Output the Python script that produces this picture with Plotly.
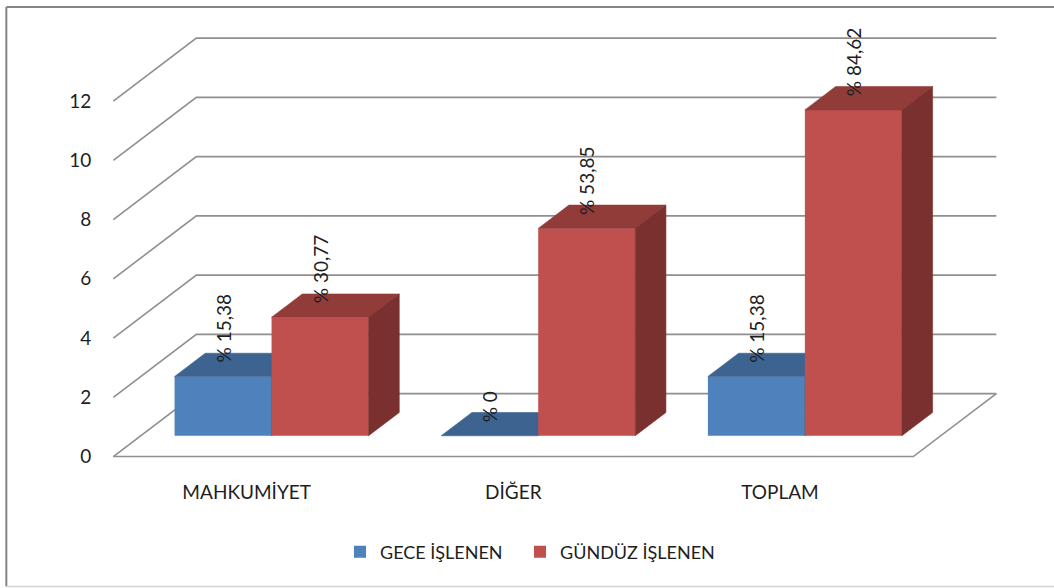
import plotly.graph_objects as go

# ---- data -------------------------------------------------------------
categories = ["MAHKUMİYET", "DİĞER", "TOPLAM"]
gece = [2, 0, 2]          # GECE İŞLENEN
gunduz = [4, 7, 11]       # GÜNDÜZ İŞLENEN
y_ticks = [0, 2, 4, 6, 8, 10, 12]
series_names = ["GECE İŞLENEN", "GÜNDÜZ İŞLENEN"]

# percentages are shares of the grand total (TOPLAM row)
grand_total = gece[-1] + gunduz[-1]


def pct_label(v):
    p = v / grand_total * 100
    if p == 0:
        return "% 0"
    return "% " + f"{p:.2f}".replace(".", ",")


# ---- pseudo-3D geometry (in axis units) -------------------------------
W_PX, H_PX = 1054, 588
PX_X = 266.67            # pixels per category step
PX_Y = 29.65             # pixels per value unit
FLOOR_DX = 83 / PX_X     # depth of the floor, x component
FLOOR_DY = 63 / PX_Y     # depth of the floor, y component
BAR_W = 97 / PX_X        # width of one bar
F0 = 0.33                # depth where the bar fronts stand
FD = 0.37                # bar depth as a fraction of the floor depth
X_NUDGE = -2.5 / PX_X    # small horizontal correction of the bar pair

X_MIN, X_MAX = -0.52, 2.9
Y_MIN, Y_MAX = -0.15, 14.6
FRONT_LEFT_PX, FRONT_ZERO_PX = 113, 457

ml = FRONT_LEFT_PX - (-0.5 - X_MIN) * PX_X
mb = H_PX - FRONT_ZERO_PX - (0 - Y_MIN) * PX_Y
plot_w = (X_MAX - X_MIN) * PX_X
plot_h = (Y_MAX - Y_MIN) * PX_Y
mr = W_PX - ml - plot_w
mt = H_PX - mb - plot_h

GRID = "#8f8f8f"
TEXT = "#1e1e1e"
FONT = "Lato"

front_colors = ["#4F81BD", "#C0504D"]
top_colors = ["#3D6391", "#923C3A"]
side_colors = ["#34557C", "#7A302E"]
legend_ids = ["legend", "legend2"]
legend_left_px = [340, 520]

fig = go.Figure()

# ---- walls and gridlines ----------------------------------------------
x0, x1 = -0.5, 2.5
shapes = []
for t in y_ticks:
    shapes.append(dict(
        type="path", xref="x", yref="y", layer="below",
        path=f"M{x0},{t} L{x0 + FLOOR_DX},{t + FLOOR_DY} L{x1 + FLOOR_DX},{t + FLOOR_DY}",
        line=dict(color=GRID, width=1.6)))
# floor front and right edges
shapes.append(dict(
    type="path", xref="x", yref="y", layer="below",
    path=f"M{x0},0 L{x1},0 L{x1 + FLOOR_DX},{FLOOR_DY}",
    line=dict(color=GRID, width=1.6)))


# ---- bars ------------------------------------------------------------
def px_to_paper_x(px):
    return (px - ml) / plot_w


def px_to_paper_y(py):
    return (H_PX - mb - py) / plot_h


base = F0 * FLOOR_DY
shift = F0 * FLOOR_DX + X_NUDGE
ddx = FD * FLOOR_DX
ddy = FD * FLOOR_DY
xs = list(range(len(categories)))

annotations = []
for s, (vals, name) in enumerate(zip([gece, gunduz], series_names)):
    offset = shift - BAR_W + s * BAR_W
    z = 1 + 2 * s
    fig.add_trace(go.Bar(
        x=xs, y=vals, base=base, width=BAR_W, offset=offset, name=name,
        marker=dict(color=front_colors[s], line=dict(width=0)),
        zorder=z, hoverinfo="skip", legend=legend_ids[s]))
    for i, v in zip(xs, vals):
        xl = i + offset
        xr = xl + BAR_W
        top = base + v
        # top face
        fig.add_trace(go.Scatter(
            x=[xl, xr, xr + ddx, xl + ddx, xl],
            y=[top, top, top + ddy, top + ddy, top],
            mode="lines", fill="toself", fillcolor=top_colors[s],
            line=dict(color=top_colors[s], width=0.6),
            showlegend=False, hoverinfo="skip", zorder=z + 1))
        # right side face
        if v > 0:
            fig.add_trace(go.Scatter(
                x=[xr, xr, xr + ddx, xr + ddx, xr],
                y=[base, top, top + ddy, base + ddy, base],
                mode="lines", fill="toself", fillcolor=side_colors[s],
                line=dict(color=side_colors[s], width=0.6),
                showlegend=False, hoverinfo="skip", zorder=z + 1))
        annotations.append(dict(
            x=xl + BAR_W / 2, y=top + ddy / 2, xref="x", yref="y",
            text=pct_label(v), textangle=-90, showarrow=False,
            xanchor="center", yanchor="bottom",
            font=dict(family=FONT, size=19, color=TEXT)))

# ---- outer frame -----------------------------------------------------
shapes.append(dict(type="line", xref="paper", yref="paper",
                   x0=px_to_paper_x(6), x1=px_to_paper_x(1060),
                   y0=px_to_paper_y(7), y1=px_to_paper_y(7),
                   line=dict(color="#858585", width=2)))
shapes.append(dict(type="line", xref="paper", yref="paper",
                   x0=px_to_paper_x(6), x1=px_to_paper_x(6),
                   y0=px_to_paper_y(7), y1=px_to_paper_y(587),
                   line=dict(color="#858585", width=2)))
shapes.append(dict(type="line", xref="paper", yref="paper",
                   x0=px_to_paper_x(6), x1=px_to_paper_x(1060),
                   y0=px_to_paper_y(587), y1=px_to_paper_y(587),
                   line=dict(color="#d4d4d4", width=1.5)))

legend_style = dict(orientation="h", xref="container", yref="container",
                    y=1 - 552 / H_PX, xanchor="left", yanchor="middle",
                    font=dict(family=FONT, size=18, color=TEXT),
                    bgcolor="rgba(0,0,0,0)")

fig.update_layout(
    template="none",
    width=W_PX, height=H_PX,
    margin=dict(l=ml, r=mr, t=mt, b=mb, autoexpand=False),
    paper_bgcolor="white", plot_bgcolor="rgba(0,0,0,0)",
    barmode="overlay",
    shapes=shapes, annotations=annotations,
    font=dict(family=FONT, size=19, color=TEXT),
    xaxis=dict(range=[X_MIN, X_MAX], tickvals=xs, ticktext=categories,
               showgrid=False, zeroline=False, showline=False,
               ticks="outside", ticklen=14, tickcolor="rgba(0,0,0,0)",
               tickfont=dict(family=FONT, size=19, color=TEXT),
               fixedrange=True),
    yaxis=dict(range=[Y_MIN, Y_MAX], tickvals=y_ticks,
               showgrid=False, zeroline=False, showline=False,
               ticks="outside", ticklen=12, tickcolor="rgba(0,0,0,0)",
               tickfont=dict(family=FONT, size=19, color=TEXT),
               fixedrange=True),
    legend=dict(x=legend_left_px[0] / W_PX, **legend_style),
    legend2=dict(x=legend_left_px[1] / W_PX, **legend_style),
    showlegend=True,
)

fig.write_html("out.html")
